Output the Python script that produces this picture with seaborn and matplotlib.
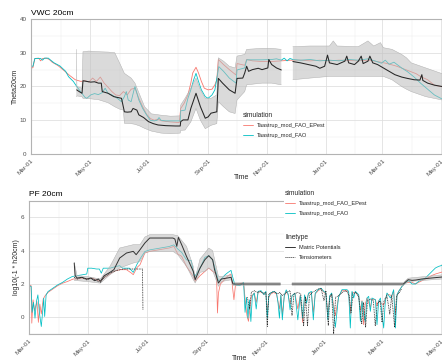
import numpy as np
import pandas as pd
import matplotlib
matplotlib.use("Agg")
import matplotlib.pyplot as plt
import matplotlib.dates as mdates
import seaborn as sns
from matplotlib.lines import Line2D
from matplotlib.patches import Rectangle

# ---------------------------------------------------------------- data
START = "2020-03-01"          # day 0 of every series (Mar-01)

sim_names = ["Taastrup_mod_FAO_EPest", "Taastrup_mod_FAO"]
sim_colors = ["#F8766D", "#00BFC4"]
linetype_names = ["Matric Potentials", "Tensiometers"]
month_fmt = "%b-%d"

# ---- VWC 20cm (Theta20cm)
vwc_epest_days = [0, 2, 4, 8, 10, 12, 16, 19, 22, 28, 34, 40, 46, 52, 56, 60, 64, 68, 72, 76,
                  80, 84, 88, 92, 96, 100, 104, 108, 112, 116, 120, 124, 128, 132, 136, 145, 154,
                  155.5, 159, 163, 166, 168, 171.4, 174, 177, 180, 184, 188, 191, 193, 194.6,
                  200, 206, 213, 214, 222, 224, 230, 240, 250, 260, 270, 280, 290, 300, 310, 320,
                  330, 340, 350, 360, 370, 380, 390, 400, 405, 412, 419, 427]
vwc_epest = [25.4, 25.6, 28.3, 28.4, 27.6, 28.3, 28.4, 28.0, 27.2, 26.2, 24.8, 23.3, 22.0, 21.5,
             21.8, 21.3, 22.5, 21.5, 22.8, 21.0, 19.8, 18.5, 17.5, 17.3, 18.5, 17.5, 19.2, 19.5,
             16.5, 14.0, 11.8, 10.5, 10.0, 10.3, 9.8, 9.5, 9.3,
             13.5, 15.0, 17.5, 21.0, 24.0, 25.7, 24.0, 21.5, 19.5, 19.0, 19.2, 20.5, 22.0, 28.0,
             26.5, 25.0, 23.4, 26.8, 26.3, 28.0, 27.6, 27.4, 27.4, 27.6, 27.8, 27.8, 27.6, 27.8,
             27.6, 27.8, 27.7, 27.6, 27.8, 27.4, 26.8, 26.0, 24.9, 23.8, 22.9, 22.0, 20.4, 19.9]

vwc_fao_days = [0, 2, 4, 10, 12, 14, 18, 20, 24, 30, 36, 39, 44, 48, 52, 56, 58, 62, 66, 70, 74,
                77, 80, 84, 87, 91, 94, 97, 99, 101, 104, 107, 108, 110, 112, 116, 120, 124, 128,
                131, 133, 135, 140, 150, 155, 155.5, 160, 163, 166, 169, 171.4, 174, 177, 181,
                184, 188, 191, 194, 195, 200, 206, 213, 214, 222, 224, 230, 240, 250, 255, 260,
                263, 266, 269, 272, 280, 290, 300, 310, 320, 330, 340, 350, 357, 364, 368, 372,
                377, 385, 391, 398, 405, 412, 419, 427]
vwc_fao = [26.0, 26.0, 28.3, 28.3, 27.8, 28.4, 28.4, 27.9, 27.0, 26.1, 24.5, 22.9, 21.5, 19.8,
           18.3, 16.8, 16.5, 17.5, 17.9, 17.6, 18.2, 19.5, 18.0, 17.5, 17.0, 16.2, 15.5, 17.0,
           18.5, 16.0, 15.5, 19.0, 20.0, 18.0, 16.0, 13.5, 11.6, 10.0, 9.8, 10.0, 10.8, 10.0,
           9.8, 9.8, 9.8, 12.8, 13.0, 16.5, 19.0, 22.0, 23.9, 21.5, 19.0, 17.0, 16.5, 17.5, 19.0,
           24.0, 25.9, 24.5, 22.5, 21.0, 24.9, 25.5, 27.9, 27.9, 27.9, 28.0, 28.2, 27.8, 28.4,
           27.6, 28.3, 28.0, 27.8, 28.0, 27.6, 27.8, 27.6, 28.0, 27.8, 28.2, 27.6, 26.9, 27.8,
           26.6, 27.2, 25.5, 24.4, 22.8, 20.9, 19.2, 17.5, 16.3]

vwc_obs_days = [47.5, 50, 53, 54, 58, 62, 66, 70, 73, 74, 80, 86, 94, 97, 100, 104, 106, 110,
                112, 117, 122, 127, 132, 140, 150, 155, 155.5, 158, 163, 166, 171.4, 176, 181,
                184, 187, 193, 194.6, 199, 206, 212, 214, 220, 222, 224, 226, 230, 236, 240, 246,
                247, 250, 255, 260, 261, 272, 280, 288, 296, 300, 305, 308, 310, 318, 326, 328,
                330, 336, 340, 343, 345, 350, 352, 355, 360, 366, 372, 378, 385, 391, 398, 404,
                406, 407, 412, 419, 427]
vwc_obs = [19.0, 18.5, 18.0, 21.7, 21.5, 21.3, 21.4, 21.0, 21.0, 18.5, 18.0, 17.0, 16.5, 12.5,
           12.4, 12.5, 13.5, 13.0, 11.6, 10.8, 9.6, 9.0, 8.6, 8.4, 8.3, 8.3, 9.6, 10.1, 10.1,
           13.5, 18.0, 14.0, 10.6, 11.0, 12.1, 12.5, 22.4, 21.0, 19.0, 18.0, 22.4, 22.5, 24.0,
           26.0, 24.5, 25.0, 25.4, 25.0, 25.5, 28.0, 26.5, 25.5, 24.9, np.nan, 27.4, 27.0, 26.5,
           26.0, 25.4, 26.0, 29.3, 27.0, 26.5, 27.5, 29.0, 27.0, 26.5, 27.5, 29.0, 26.8, 27.5,
           29.0, 27.0, 26.5, 25.5, 24.5, 23.5, 22.8, 22.4, 22.0, 21.9, 23.5, 21.8, 21.0, 20.4,
           20.0]

vwc_band_days = [47, 47.7, 53, 54, 60, 70, 80, 87, 92, 96, 97, 104, 108, 113, 118, 125, 135, 145,
                 155, 155.5, 160, 166, 171.4, 176, 181, 187, 193, 194.6, 200, 206, 212, 214, 222,
                 224, 240, 250, 260, 261, 272, 290, 310, 314, 318, 340, 350, 356, 363, 366, 375,
                 385, 390, 395, 410, 427]
vwc_band_low = [17.0, 17.2, 17.0, 16.5, 16.4, 16.1, 15.2, 14.0, 13.3, 13.0, 9.1, 9.0, 8.8, 8.3,
                7.6, 6.8, 6.2, 6.0, 6.2, 7.0, 7.1, 9.5, 13.5, 10.0, 7.5, 8.5, 9.0, 15.5, 14.0,
                12.5, 12.0, 16.0, 18.5, 20.5, 21.0, 21.0, 20.5, np.nan, 22.0, 22.5, 23.0, 23.0,
                23.0, 23.0, 23.0, 23.0, 23.0, 23.0, 22.0, 20.0, 19.2, 18.5, 17.0, 16.0]
vwc_band_high = [31.0, 20.0, 19.5, 30.3, 30.5, 30.3, 30.2, 30.0, 27.0, 24.5, 23.9, 22.5, 21.0,
                 17.5, 14.0, 11.9, 11.5, 11.2, 11.3, 14.5, 16.5, 19.5, 22.5, 19.0, 16.5, 16.5,
                 17.5, 28.5, 27.5, 26.0, 25.5, 29.0, 29.5, 31.0, 31.3, 31.3, 31.0, np.nan, 31.8,
                 32.0, 32.0, 33.5, 32.0, 31.8, 33.5, 32.0, 33.0, 31.5, 31.0, 29.5, 28.5, 27.0,
                 25.5, 23.8]

# ---- PF 20cm (log10(-1 * h20cm))
pf_epest_days = [0, 2.5, 3.2, 4.5, 6, 8.5, 10, 11.5, 13, 15, 17, 20, 25, 30, 35, 40, 46, 50, 55,
                 60, 66, 70, 74, 78, 84, 88, 94, 101, 106, 108, 112, 115, 120, 125, 135, 145, 150,
                 154, 158, 163, 170, 172, 177, 182, 186, 190, 194, 195, 196, 198, 203, 206, 209,
                 211, 212, 213.5, 218, 222, 224, 225.5, 227, 228.5, 230, 233, 235, 237, 240, 243,
                 245, 246.5, 248, 250, 253, 256, 259, 260.5, 262, 264, 266, 268, 270, 272, 275,
                 278, 280.5, 283, 285, 287, 289, 292, 294, 296, 299, 302, 305, 307, 309, 311, 313,
                 316.8, 320, 323.6, 328.8, 330.5, 332.2, 334, 337.4, 340.9, 342.6, 344.3, 346,
                 347.7, 349.5, 352.9, 354.6, 358.1, 359.8, 361.5, 365, 366.7, 368.4, 370.1, 375.3,
                 377, 378.8, 380.5, 382.2, 385.6, 389.1, 392.5, 396, 399.4, 402.9, 406.3, 409.8,
                 413.2, 416.7, 420.1, 423.5, 427]
pf_epest = [1.95, 1.9, -0.35, 1.05, 0.4, 0.95, -0.3, 0.8, 0.2, 1.1, 1.3, 1.5, 1.7, 1.9, 2.05,
            2.15, 2.3, 2.3, 2.35, 2.3, 2.35, 2.25, 2.16, 2.4, 2.6, 2.76, 2.86, 2.86, 2.66, 2.56,
            3.0, 3.16, 3.86, 3.96, 4.06, 4.16, 4.26, 3.8, 3.66, 3.06, 2.46, 2.16, 2.5, 2.76, 2.96,
            2.76, 2.6, 0.26, 1.46, 2.0, 2.3, 2.5, 2.6, 1.56, 1.06, 1.9, 2.0, 2.1, 0.8, 0.1, -0.24,
            0.5, 1.26, 1.46, 0.9, 1.5, 1.55, 1.36, 1.5, 0.3, 1.2, 1.4, 1.5, 1.4, 0.5, 1.3, 0.2,
            1.25, 1.55, 1.35, 0.8, 1.3, 1.45, 0.5, 1.3, -0.3, 1.3, 1.0, 1.4, 1.5, 0.3, 1.4, 1.6,
            1.7, 1.5, 1.4, 0.2, 1.25, 1.4, 0.1, 1.2, 1.6, 1.6, 1.5, 0.2, 1.5, 1.5, 1.3, 0.4, 1.0,
            -0.44, 0.8, 1.16, 0.6, 1.1, 1.06, 0.7, 1.0, 0.8, 0.76, 1.0, 1.4, 1.3, 1.6, 0.2, 1.3,
            1.56, 1.86, 2.06, 2.1, 2.1, 2.0, 2.1, 2.2, 2.3, 2.4, 2.52, 2.6, 2.66, 2.72]

pf_fao_days = [0, 2.5, 3.5, 5, 6.5, 8, 9.5, 11, 13, 14.5, 15.5, 16.5, 18, 20, 25, 30, 35, 40, 45,
               50, 55, 60, 61, 65, 70, 73, 75, 77, 84, 90, 94, 97, 104, 108, 112, 116, 120, 125,
               135, 145, 150, 154, 158, 163, 168, 171, 177, 182, 186, 190, 194, 196, 199, 203,
               206, 209, 211, 213, 218, 222, 223.5, 225, 226.5, 228, 229.5, 231, 233, 235, 237,
               240, 243, 245, 246.5, 248, 250, 253, 256, 257.5, 259, 260.5, 262, 264, 266, 268,
               270, 272, 275, 278, 280.5, 283, 285, 287, 289, 292, 294, 296, 299, 302, 305, 307,
               309, 311, 313, 316.8, 320, 323.6, 328.8, 330.5, 332.2, 334, 335.7, 337.4, 340.9,
               342.6, 344.3, 346, 347.7, 349.5, 351.2, 352.9, 354.6, 358.1, 359.8, 361.5, 363.3,
               365, 366.7, 368.4, 370.1, 373.6, 375.3, 377, 378.8, 380.5, 382.2, 385.6, 389.1,
               392.5, 396, 399.4, 402.9, 406.3, 409.8, 413.2, 416.7, 420.1, 423.5, 427]
pf_fao = [1.9, 1.85, 0.3, 0.9, -0.05, 0.95, 1.35, 0.3, -0.55, 0.4, 1.15, 0.05, 1.35, 1.55, 1.75,
          1.95, 2.1, 2.3, 2.45, 2.5, 2.55, 2.6, 2.95, 2.95, 2.9, 2.9, 2.65, 2.95, 2.95, 3.05, 3.1,
          2.95, 2.95, 2.7, 3.2, 3.6, 3.95, 4.05, 4.15, 4.25, 4.35, 4.1, 3.9, 3.45, 3.4, 2.4, 2.95,
          3.6, 3.7, 3.45, 2.6, 2.2, 2.3, 2.56, 2.7, 2.82, 2.36, 1.96, 1.9, 2.1, 0.3, 1.2, -0.05,
          1.05, -0.25, 1.26, 1.46, 0.5, 1.56, 1.6, 1.36, 1.56, -0.05, 1.26, 1.46, 1.56, 1.46, 0.9,
          -0.05, 1.35, -0.15, 1.3, 1.65, 1.4, 0.45, 1.3, 1.45, -0.15, 1.3, -0.05, 1.35, 0.85,
          1.45, 1.56, -0.15, 1.45, 1.66, 1.75, 1.55, 1.46, -0.15, 1.3, 1.46, -0.6, 1.2, 1.66,
          1.66, 1.56, -0.64, 1.56, 1.16, 1.56, 1.36, -0.24, 0.96, 0.16, -0.24, 1.16, 1.26, 0.36,
          1.16, 1.06, -0.44, 0.96, 1.16, 0.16, -0.64, 0.96, 1.46, 1.16, 1.36, 1.66, -0.64, 1.36,
          1.56, 1.86, 2.06, 2.2, 2.0, 2.0, 2.16, 2.26, 2.36, 2.56, 2.76, 2.96, 3.06, 3.12]

pf_obs_days = [47, 48, 50, 55, 60, 64, 68, 72, 74, 78, 84, 88, 94, 101, 108, 111, 115, 120, 125,
               135, 149, 151, 153, 154.6, 158, 163, 170, 172, 177, 182, 186, 190, 192, 196, 199,
               205, 209, 211, 222, 260, 261, 272, 387, 392, 396, 400, 406, 416, 427]
pf_obs = [3.26, 2.5, 2.36, 2.4, 2.3, 2.36, 2.2, 2.3, 2.16, 2.5, 2.7, 2.86, 3.56, 3.86, 3.96,
          3.76, 4.06, 4.46, 4.76, 4.76, 4.76, 4.7, 4.26, 4.8, 4.36, 3.66, 2.76, 2.26, 2.96, 3.46,
          3.7, 3.46, 2.86, 2.06, 2.3, 2.36, 2.4, 2.0, 2.0, 2.0, np.nan, 2.0, 2.0, 2.26, 2.22,
          2.24, 2.3, 2.36, 2.42]

pf_band_days = [47, 50, 60, 74, 84, 94, 108, 115, 120, 125, 149, 154, 163, 170, 172, 177, 182,
                186, 190, 196, 199, 209, 211, 260, 261, 272, 387, 392, 427]
pf_band_low = [2.2, 2.2, 2.15, 2.05, 2.56, 2.96, 3.26, 3.36, 3.86, 3.96, 3.96, 3.76, 3.06, 2.26,
               2.06, 2.7, 2.76, 2.96, 2.8, 1.86, 2.15, 2.25, 1.92, 1.92, np.nan, 1.92, 1.92,
               2.15, 2.3]
pf_band_high = [3.3, 2.5, 2.45, 2.3, 3.06, 4.16, 4.36, 4.36, 4.82, 4.96, 4.96, 4.9, 4.26, 3.06,
                2.36, 3.5, 3.86, 4.16, 4.0, 2.46, 2.45, 2.55, 2.08, 2.08, np.nan, 2.08, 2.08,
                2.35, 2.55]

pf_tens_days = [47, 50, 55, 60, 65, 70, 74, 78, 84, 90, 98, 117.5, 118, 119,
                226, 228, 230, 233, 236, 239, 242, 245, 246.5, 248, 251, 254, 257, 259.5, 262,
                266, 270, 272, 274, 278, 281, 284, 286, 288, 290, 293, 296, 299, 302, 305, 307,
                309.5, 311, 313, 315, 317, 320, 324, 328, 331, 333, 335, 338, 341, 344, 346, 348,
                350, 353, 356, 358, 360, 363, 365, 367, 370, 373, 375, 378, 380, 383, 385]
pf_tens = [2.4, 2.3, 2.4, 2.25, 2.35, 2.2, 2.1, 2.4, 2.66, 2.8, 2.9, 2.9, 0.46, np.nan,
           1.2, 0.5, 1.5, 1.6, 1.5, 1.55, 1.45, 1.5, -0.54, 1.4, 1.5, 1.55, 1.4, 1.5, 1.3, 1.5,
           1.6, 0.1, 1.4, 1.5, 1.4, -0.5, 1.2, -0.5, 1.3, 1.5, 1.6, 1.7, 1.75, 1.0, 1.6, -0.5,
           1.2, 1.4, -1.0, 1.2, 1.3, 1.5, 1.6, 1.3, 0.3, 1.4, 1.5, 1.2, -0.4, 0.9, -0.6, 1.0,
           1.1, 1.0, -0.5, 0.8, 1.0, -0.3, 1.0, 1.3, 0.2, 1.3, -0.6, 1.3, 1.5, 1.7]

# ---------------------------------------------------------------- helpers
def to_dates(days):
    return pd.Timestamp(START) + pd.to_timedelta(np.asarray(days, dtype=float), unit="D")


def sim_frame(days_list, vals_list):
    parts = []
    for name, d, v in zip(sim_names, days_list, vals_list):
        parts.append(pd.DataFrame({"Time": to_dates(d), "value": v, "simulation": name}))
    return pd.concat(parts, ignore_index=True)


W, H = 442, 361
sns.set_theme(style="white")
plt.rcParams["font.family"] = ["Liberation Sans", "DejaVu Sans"]

fig = plt.figure(figsize=(W / 100, H / 100), dpi=100)
fig.patch.set_facecolor("white")


def px_axes(left, top, right, bottom):
    return fig.add_axes([left / W, 1 - bottom / H, (right - left) / W, (bottom - top) / H])


ax1 = px_axes(31, 19, 444, 154)
ax2 = px_axes(28.7, 200.7, 444, 334)

x0 = to_dates([0])[0]
x1 = to_dates([429])[0]


def style(ax, ylim, ymajor, yminor):
    ax.set_xlim(x0, x1)
    ax.set_ylim(*ylim)
    ax.set_yticks(ymajor)
    ax.set_yticks(yminor, minor=True)
    ax.xaxis.set_major_locator(mdates.MonthLocator(bymonth=[1, 3, 5, 7, 9, 11]))
    ax.xaxis.set_minor_locator(mdates.MonthLocator(bymonth=[2, 4, 6, 8, 10, 12]))
    ax.xaxis.set_major_formatter(mdates.DateFormatter(month_fmt))
    ax.grid(which="major", color="#DEDEDE", lw=0.55, zorder=0)
    ax.grid(which="minor", color="#EDEDED", lw=0.35, zorder=0)
    ax.set_axisbelow(True)
    for s in ax.spines.values():
        s.set_color("#B3B3B3")
        s.set_linewidth(0.8)
    ax.tick_params(axis="both", which="major", length=2, width=0.5, color="#B3B3B3",
                   labelsize=4.5, labelcolor="#4D4D4D", pad=1.2)
    ax.tick_params(axis="both", which="minor", length=0)
    for lab in ax.get_xticklabels():
        lab.set_rotation(45)
        lab.set_ha("right")
        lab.set_va("top")
        lab.set_rotation_mode("anchor")
    ax.set_xlabel("")
    ax.set_ylabel("")


band_kw = dict(color="#BDBDBD", alpha=0.55, lw=0.0, zorder=3)
edge_kw = dict(color="#AFAFAF", lw=0.35, zorder=3)

# ---------------------------------------------------------------- VWC panel
df1 = sim_frame([vwc_epest_days, vwc_fao_days], [vwc_epest, vwc_fao])
sns.lineplot(data=df1, x="Time", y="value", hue="simulation", hue_order=sim_names,
             palette=dict(zip(sim_names, sim_colors)), estimator=None, sort=False,
             linewidth=0.6, legend=False, ax=ax1, zorder=2)
bd = to_dates(vwc_band_days)
ax1.fill_between(bd, vwc_band_low, vwc_band_high, **band_kw)
ax1.plot(bd, vwc_band_low, **edge_kw)
ax1.plot(bd, vwc_band_high, **edge_kw)
ax1.plot(to_dates(vwc_obs_days), vwc_obs, color="#262626", lw=0.75, zorder=4)
style(ax1, (0, 40), [0, 10, 20, 30, 40], [5, 15, 25, 35])

# ---------------------------------------------------------------- PF panel
df2 = sim_frame([pf_epest_days, pf_fao_days], [pf_epest, pf_fao])
sns.lineplot(data=df2, x="Time", y="value", hue="simulation", hue_order=sim_names,
             palette=dict(zip(sim_names, sim_colors)), estimator=None, sort=False,
             linewidth=0.55, legend=False, ax=ax2, zorder=2)
bd2 = to_dates(pf_band_days)
ax2.fill_between(bd2, pf_band_low, pf_band_high, **band_kw)
ax2.plot(bd2, pf_band_low, **edge_kw)
ax2.plot(bd2, pf_band_high, **edge_kw)
ax2.plot(to_dates(pf_obs_days), pf_obs, color="#333333", lw=0.7, zorder=4)
ax2.plot(to_dates(pf_tens_days), pf_tens, color="#222222", lw=0.6, ls=(0, (1, 1)), zorder=4)
style(ax2, (-1, 7), [0, 2, 4, 6], [-1, 1, 3, 5, 7])

# ---------------------------------------------------------------- texts
fig.text(31 / W, 1 - 15 / H, "VWC 20cm", fontsize=6, color="black", va="baseline", ha="left")
fig.text(28.7 / W, 1 - 196 / H, "PF 20cm", fontsize=6, color="black", va="baseline", ha="left")
fig.text(15.5 / W, 1 - 86.5 / H, "Theta20cm", fontsize=5, rotation=90, va="center", ha="center")
fig.text(16 / W, 1 - 267.4 / H, "log10(-1 * h20cm)", fontsize=5, rotation=90,
         va="center", ha="center")
fig.text(241.5 / W, 1 - 178 / H, "Time", fontsize=5, va="center", ha="center")
fig.text(240 / W, 1 - 358 / H, "Time", fontsize=5, va="center", ha="center")

sim_handles = [Line2D([], [], color=c, lw=0.6) for c in sim_colors]
lt_handles = [Line2D([], [], color="#333333", lw=0.7),
              Line2D([], [], color="#333333", lw=0.7, ls=(0, (1, 1)))]
leg_kw = dict(frameon=False, fontsize=4.1, title_fontsize=4.8, handlelength=1.7,
              handletextpad=0.7, labelspacing=0.75, borderpad=0.0, borderaxespad=0.0,
              alignment="left")

leg1 = fig.legend(sim_handles, sim_names, title="simulation", loc="upper left",
                  bbox_to_anchor=(243 / W, 1 - 112 / H), **leg_kw)

# white box of the PF legend (covers the panel behind it)
fig.patches.append(Rectangle((284 / W, 1 - 264 / H), (W - 284) / W, (264 - 186) / H,
                             transform=fig.transFigure, facecolor="white",
                             edgecolor="none", zorder=4))
leg2 = fig.legend(sim_handles, sim_names, title="simulation", loc="upper left",
                  bbox_to_anchor=(285 / W, 1 - 190 / H), **leg_kw)
leg3 = fig.legend(lt_handles, linetype_names, title="linetype", loc="upper left",
                  bbox_to_anchor=(285 / W, 1 - 234 / H), **leg_kw)
for lg in (leg1, leg2, leg3):
    lg.set_zorder(6)

fig.savefig("out.png", dpi=100, facecolor="white")
